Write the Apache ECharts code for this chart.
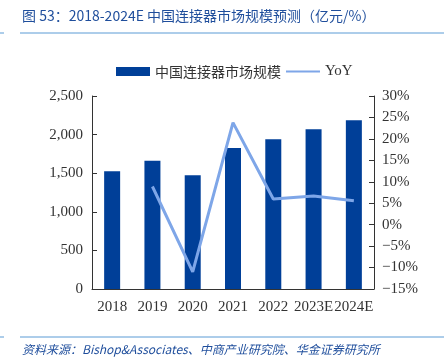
<!DOCTYPE html>
<html><head><meta charset="utf-8">
<script src="https://cdn.jsdelivr.net/npm/echarts@6/dist/echarts.min.js"></script>
<style>html,body{margin:0;padding:0;background:#fff;}#c{width:444px;height:361px;}</style>
</head><body><div id="c"></div>
<script>
const categories = ['2018','2019','2020','2021','2022','2023E','2024E'];
const marketSize = [1525, 1660, 1475, 1825, 1940, 2070, 2186];
const yoy = [null, 8.9, -11.0, 23.8, 6.0, 6.7, 5.6];
const leftTicks = [0, 500, 1000, 1500, 2000, 2500];
const rightTicks = [-15, -10, -5, 0, 5, 10, 15, 20, 25, 30];

const chart = echarts.init(document.getElementById('c'), null, {renderer:'canvas'});
const serif = '"Liberation Serif", "DejaVu Serif", serif';
chart.setOption({
  animation:false,
  graphic:[
    {type:'text', left:22, top:9, style:{text:'图 53：2018-2024E 中国连接器市场规模预测（亿元/%）', fill:'#1f4e9c', font:'14px "Noto Sans CJK SC", sans-serif'}},
    {type:'line', shape:{x1:20,y1:33,x2:444,y2:33}, style:{stroke:'#5b9bd5', lineWidth:1}},
    {type:'line', shape:{x1:0,y1:33,x2:4,y2:33}, style:{stroke:'#5b9bd5', lineWidth:1}},
    {type:'line', shape:{x1:20,y1:337,x2:444,y2:337}, style:{stroke:'#5b9bd5', lineWidth:1}},
    {type:'line', shape:{x1:0,y1:337,x2:4,y2:337}, style:{stroke:'#5b9bd5', lineWidth:1}},
    {type:'text', left:22, top:343, style:{text:'资料来源：Bishop&Associates、中商产业研究院、华金证券研究所', fill:'#1f4e9c', font:'italic 12px "Noto Sans CJK SC", sans-serif'}}
  ],
  legend:{
    top:59, left:111, itemGap:4, itemWidth:34, itemHeight:9,
    textStyle:{fontFamily:'"Noto Sans CJK SC", serif', fontSize:14, color:'#333'},
    lineStyle:{width:2},
    data:[{name:'中国连接器市场规模', icon:'rect'},
          {name:'YoY', itemStyle:{opacity:0, color:'transparent', borderWidth:0},
           textStyle:{fontFamily:serif, fontSize:15}}]
  },
  grid:{left:92, right:70, top:96, bottom:72, containLabel:false},
  xAxis:{
    type:'category', data:categories,
    axisLine:{lineStyle:{color:'#333'}}, axisTick:{show:false},
    axisLabel:{fontFamily:serif, fontSize:15, color:'#333', margin:11, interval:0}
  },
  yAxis:[
    {type:'value', min:0, max:2500, interval:500, position:'left',
     axisLine:{show:true, lineStyle:{color:'#333'}}, axisTick:{show:true, inside:true, length:5},
     splitLine:{show:false},
     axisLabel:{fontFamily:serif, fontSize:15, color:'#333', margin:9,
       formatter:v=>v.toLocaleString('en-US')}},
    {type:'value', min:-15, max:30, interval:5, position:'right',
     axisLine:{show:true, lineStyle:{color:'#333'}}, axisTick:{show:true, inside:true, length:5},
     splitLine:{show:false},
     axisLabel:{fontFamily:serif, fontSize:15, color:'#333', margin:8,
       formatter:v=>(v<0?'−'+(-v):v)+'%'}}
  ],
  series:[
    {name:'中国连接器市场规模', type:'bar', data:marketSize, yAxisIndex:0, barWidth:16,
     itemStyle:{color:'#003f98'}},
    {name:'YoY', type:'line', data:yoy, yAxisIndex:1, symbol:'none', connectNulls:false,
     lineStyle:{color:'#7ea6e8', width:3}, itemStyle:{color:'#7ea6e8'}}
  ]
});
</script></body></html>
